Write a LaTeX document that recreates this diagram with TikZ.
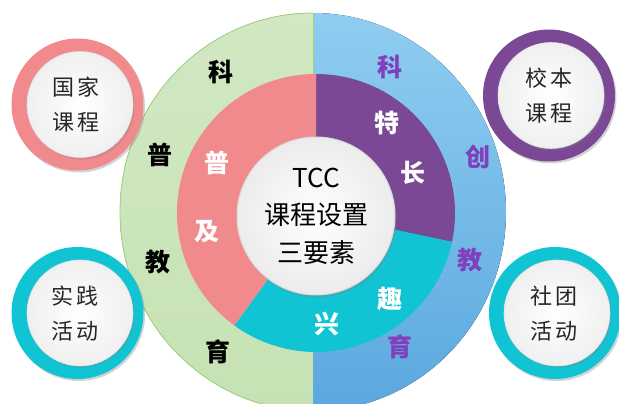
\documentclass[tikz,border=0pt]{standalone}
\usepackage{fontspec}
\newfontfamily\cjk{Noto Sans CJK SC}
\usetikzlibrary{shadows}
\definecolor{ringgreen}{HTML}{D1E8C3}
\definecolor{ringgreenb}{HTML}{C6E2B3}
\definecolor{greenline}{HTML}{9FD27E}
\definecolor{bluetop}{HTML}{8FCDF0}
\definecolor{bluebot}{HTML}{5AA8E0}
\definecolor{pinkc}{HTML}{F08A8C}
\definecolor{purplec}{HTML}{7B4896}
\definecolor{cyanc}{HTML}{10C4D4}
\definecolor{labpurple}{HTML}{8040BC}
\tikzset{
  lab/.style={font=\cjk\bfseries\fontsize{25}{25}\selectfont, inner sep=0pt},
  blacklab/.style={lab, text=black},
  purplab/.style={lab, text=labpurple},
  whitelab/.style={lab, text=white},
  smallring/.style={circle, minimum size=132pt, inner sep=0pt, drop shadow={shadow xshift=1.5pt, shadow yshift=-2pt, opacity=0.35}},
  whitedisc/.style={circle, minimum size=106pt, inner sep=0pt, draw=gray!25, line width=0.6pt, inner color=white, outer color=gray!12, drop shadow={shadow xshift=1.5pt, shadow yshift=-2pt, opacity=0.3}},
  smalltext/.style={font=\cjk\fontsize{22}{35}\selectfont, align=center, text=black!85}
}
\begin{document}
\begin{tikzpicture}[x=1pt,y=1pt]
\useasboundingbox (0,0) rectangle (619,404);
\clip (0,0) rectangle (619,404);
\coordinate (c) at (316,192);
\coordinate (ci) at (316,191);
% outer ring: left green half
\fill[top color=ringgreen, bottom color=ringgreenb] (313,391) arc[start angle=90, end angle=270, x radius=193, y radius=199] -- cycle;
\draw[greenline, line width=0.8pt] (313,391) arc[start angle=90, end angle=270, x radius=193, y radius=199];
% outer ring: right blue half
\fill[top color=bluetop, bottom color=bluebot] (313,391) arc[start angle=90, end angle=-90, x radius=193, y radius=199] -- cycle;
\draw[greenline, line width=0.8pt] (313,391) -- (313,320);
% inner ring sectors
\fill[purplec] (ci) -- ++(-12:139) arc[start angle=-12, end angle=90, radius=139] -- cycle;
\fill[cyanc] (ci) -- ++(-126:139) arc[start angle=-126, end angle=-12, radius=139] -- cycle;
\fill[pinkc] (ci) -- ++(90:139) arc[start angle=90, end angle=234, radius=139] -- cycle;
% centre disc
\node[circle, minimum size=158pt, inner sep=0pt, draw=gray!30, line width=1pt, inner color=white, outer color=gray!15, drop shadow={shadow xshift=1.5pt, shadow yshift=-2.5pt, opacity=0.35}] (centre) at (316,188) {};
\node[font=\cjk\fontsize{26}{37.5}\selectfont, align=center, text=black] (centretext) at (316,188) {TCC\\课程设置\\三要素};
% outer ring labels, left
\node[blacklab] (l1) at (221,332) {科};
\node[blacklab] (l2) at (160,249) {普};
\node[blacklab] (l3) at (158,142) {教};
\node[blacklab] (l4) at (218,52) {育};
% outer ring labels, right
\node[purplab] (r1) at (390,337) {科};
\node[purplab] (r2) at (478,247) {创};
\node[purplab] (r3) at (470,144) {教};
\node[purplab] (r4) at (400,57) {育};
% inner ring labels
\node[whitelab] (p1) at (217,241) {普};
\node[whitelab] (p2) at (207,172) {及};
\node[whitelab] (t1) at (387,281) {特};
\node[whitelab] (t2) at (413,231) {长};
\node[whitelab] (q1) at (390,105) {趣};
\node[whitelab] (q2) at (327,80) {兴};
% small circles
\node[smallring, fill=pinkc] (guo) at (77.5,299.5) {};
\node[whitedisc] (guow) at (80,299.5) {};
\node[smalltext] (guot) at (76,299.5) {国\hspace{4pt}家\\课\hspace{4pt}程};
\node[smallring, fill=purplec] (xiao) at (549,308.5) {};
\node[whitedisc] (xiaow) at (551,308.5) {};
\node[smalltext] (xiaot) at (549,308.5) {校\hspace{4pt}本\\课\hspace{4pt}程};
\node[smallring, fill=cyanc] (shi) at (77.5,91) {};
\node[whitedisc] (shiw) at (80,91) {};
\node[smalltext] (shit) at (75,90) {实\hspace{4pt}践\\活\hspace{4pt}动};
\node[smallring, fill=cyanc] (she) at (555,91) {};
\node[whitedisc] (shew) at (557,91) {};
\node[smalltext] (shet) at (554,90) {社\hspace{4pt}团\\活\hspace{4pt}动};
\end{tikzpicture}
\end{document}
